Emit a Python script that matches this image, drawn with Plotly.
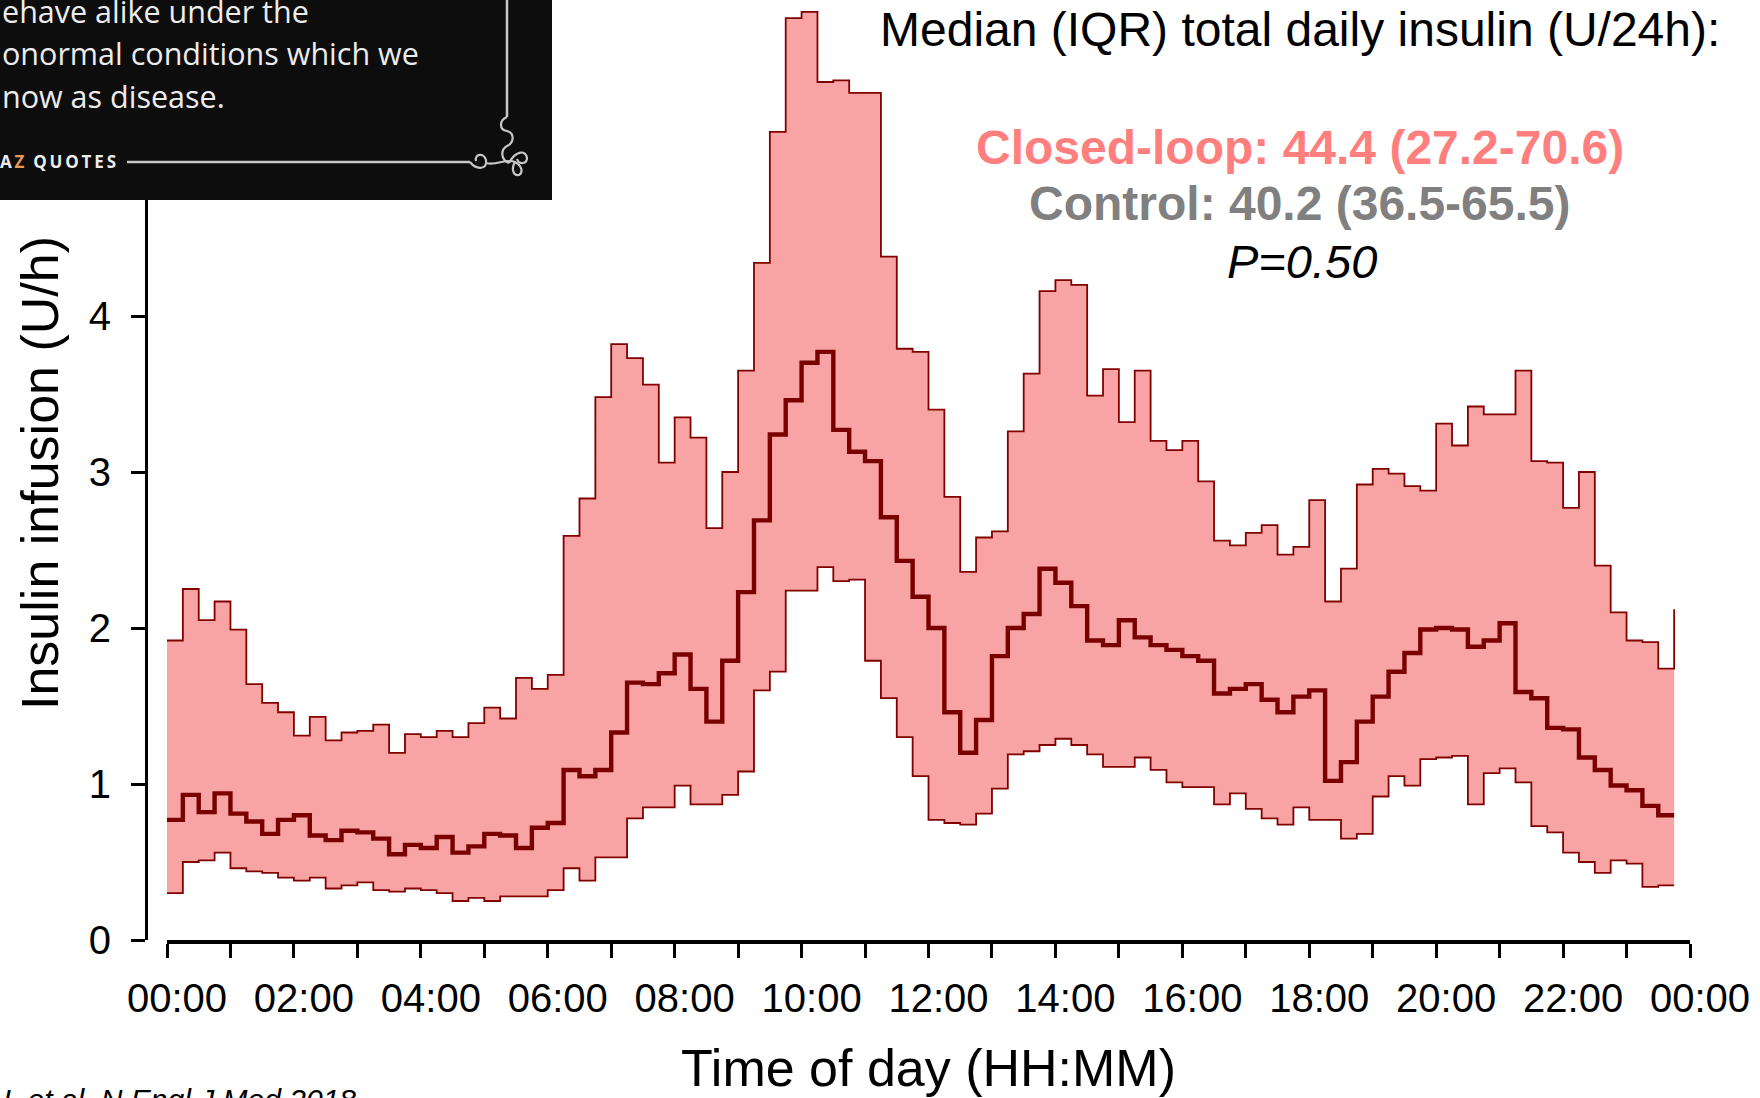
import re
import plotly.graph_objects as go

# ---------------- data (U/h), 15-min bins starting 00:00 ----------------
bin_minutes = 15
upper = [1.92, 2.25, 2.05, 2.17, 1.99, 1.64, 1.52, 1.46, 1.31, 1.43, 1.28, 1.33,
         1.34, 1.38, 1.20, 1.32, 1.30, 1.34, 1.30, 1.39, 1.49, 1.42, 1.68, 1.61,
         1.70, 2.59, 2.83, 3.48, 3.82, 3.73, 3.56, 3.06, 3.35, 3.22, 2.64, 3.00,
         3.65, 4.34, 5.18, 5.91, 5.95, 5.50, 5.51, 5.43, 5.43, 4.38, 3.79, 3.77,
         3.40, 2.84, 2.36, 2.58, 2.62, 3.26, 3.63, 4.16, 4.23, 4.20, 3.49, 3.66,
         3.32, 3.65, 3.20, 3.14, 3.20, 2.94, 2.56, 2.53, 2.61, 2.66, 2.47, 2.52,
         2.82, 2.17, 2.38, 2.92, 3.02, 2.99, 2.91, 2.88, 3.31, 3.17, 3.42, 3.37,
         3.37, 3.65, 3.07, 3.06, 2.77, 3.00, 2.40, 2.10, 1.92, 1.91, 1.74, 2.12]
median = [0.77, 0.93, 0.82, 0.94, 0.81, 0.76, 0.68, 0.77, 0.80, 0.67, 0.64, 0.70,
          0.69, 0.65, 0.55, 0.61, 0.59, 0.66, 0.56, 0.60, 0.68, 0.67, 0.59, 0.72,
          0.75, 1.09, 1.05, 1.09, 1.33, 1.65, 1.64, 1.71, 1.83, 1.61, 1.40, 1.79,
          2.23, 2.69, 3.24, 3.46, 3.70, 3.77, 3.27, 3.13, 3.07, 2.71, 2.43, 2.20,
          2.00, 1.46, 1.20, 1.41, 1.82, 2.00, 2.09, 2.38, 2.29, 2.14, 1.92, 1.89,
          2.05, 1.94, 1.89, 1.86, 1.82, 1.79, 1.58, 1.61, 1.64, 1.54, 1.46, 1.56,
          1.60, 1.02, 1.14, 1.40, 1.56, 1.72, 1.84, 1.99, 2.00, 1.99, 1.88, 1.92,
          2.03, 1.59, 1.55, 1.36, 1.35, 1.17, 1.09, 0.99, 0.96, 0.86, 0.80, 0.80]
lower = [0.30, 0.50, 0.51, 0.56, 0.46, 0.44, 0.43, 0.40, 0.38, 0.40, 0.33, 0.35,
         0.37, 0.32, 0.31, 0.33, 0.32, 0.30, 0.25, 0.27, 0.25, 0.28, 0.28, 0.28,
         0.32, 0.46, 0.38, 0.53, 0.53, 0.78, 0.85, 0.85, 0.99, 0.87, 0.87, 0.93,
         1.08, 1.60, 1.72, 2.24, 2.24, 2.39, 2.30, 2.31, 1.79, 1.55, 1.30, 1.05,
         0.77, 0.75, 0.74, 0.81, 0.97, 1.19, 1.21, 1.25, 1.29, 1.25, 1.19, 1.11,
         1.11, 1.17, 1.09, 1.01, 0.98, 0.98, 0.87, 0.94, 0.84, 0.78, 0.74, 0.85,
         0.77, 0.77, 0.65, 0.68, 0.92, 1.05, 0.99, 1.16, 1.17, 1.18, 0.87, 1.07,
         1.10, 1.01, 0.73, 0.69, 0.56, 0.50, 0.43, 0.51, 0.49, 0.34, 0.35, 0.35]

tick_hours = list(range(0, 25))
tick_labels = ["00:00", "", "02:00", "", "04:00", "", "06:00", "", "08:00", "",
               "10:00", "", "12:00", "", "14:00", "", "16:00", "", "18:00", "",
               "20:00", "", "22:00", "", "00:00"]
y_ticks = [0, 1, 2, 3, 4]

hours = [i * bin_minutes / 60 for i in range(len(median))]

# ---------------- geometry helpers ----------------
W, H = 1760, 1098
ML, MR, MT, MB = 146, 60, 4, 158
PW = W - ML - MR
PH = H - MT - MB


def pxx(x):
    return (x - ML) / PW


def pxy(y):
    return (H - MB - y) / PH


def path_px(s):
    def conv(m):
        x, y = float(m.group(1)), float(m.group(2))
        return f"{pxx(x):.5f},{pxy(y):.5f}"
    return re.sub(r"(-?\d+\.?\d*),(-?\d+\.?\d*)", conv, s)


ARIAL = "Liberation Sans, Arial, sans-serif"
DARK = "#800000"
FILL = "rgb(248,164,164)"

fig = go.Figure()
fig.add_trace(go.Scatter(x=hours, y=lower, mode="lines",
                         line=dict(shape="hv", color=DARK, width=1.8),
                         hoverinfo="skip", showlegend=False))
fig.add_trace(go.Scatter(x=hours, y=upper, mode="lines", fill="tonexty",
                         fillcolor=FILL,
                         line=dict(shape="hv", color=DARK, width=1.8),
                         hoverinfo="skip", showlegend=False))
fig.add_trace(go.Scatter(x=hours, y=median, mode="lines",
                         line=dict(shape="hv", color="#7a0000", width=4.4),
                         hoverinfo="skip", showlegend=False))

x0_dom = (167 - ML) / PW
x1_dom = (1690 - ML) / PW

fig.update_layout(
    width=W, height=H, autosize=False,
    margin=dict(l=ML, r=MR, t=MT, b=MB, pad=0, autoexpand=False),
    paper_bgcolor="white", plot_bgcolor="white",
    showlegend=False,
    font=dict(family=ARIAL, color="black"),
    xaxis=dict(domain=[x0_dom, x1_dom], range=[0, 24], automargin=False,
               tickmode="array", tickvals=tick_hours, ticktext=tick_labels,
               ticks="outside", ticklen=14, tickwidth=2.5, tickcolor="black",
               showline=True, linewidth=3.5, linecolor="black",
               showgrid=False, zeroline=False,
               tickfont=dict(family=ARIAL, size=40, color="black"),
               ticklabelstandoff=6, ticklabelshift=10),
    yaxis=dict(anchor="free", position=0, range=[0, 6.0], automargin=False,
               tickmode="array", tickvals=y_ticks,
               ticks="outside", ticklen=14, tickwidth=2.5, tickcolor="black",
               showline=True, linewidth=3, linecolor="black",
               showgrid=False, zeroline=False,
               tickfont=dict(family=ARIAL, size=40, color="black"),
               ticklabelstandoff=12),
)

annotations = []


def ann(text, x, y, size, color="black", xanchor="center", family=ARIAL, angle=0):
    annotations.append(dict(text=text, x=pxx(x), y=pxy(y), xref="paper", yref="paper",
                            xanchor=xanchor, yanchor="middle", showarrow=False,
                            textangle=angle,
                            font=dict(family=family, size=size, color=color)))


# axis titles
ann("Time of day (HH:MM)", 928, 1068, 52)
ann("Insulin infusion (U/h)", 40, 473, 52, angle=-90)

# summary text
ann("Median (IQR) total daily insulin (U/24h):", 1300, 29, 48)
ann("<b>Closed-loop: 44.4 (27.2-70.6)</b>", 1300, 147, 48, color="#FF7F7F")
ann("<b>Control: 40.2 (36.5-65.5)</b>", 1300, 203, 48, color="#808080")
ann("<i>P=0.50</i>", 1302, 261, 47)

# citation (cut at bottom edge)
ann("<i>L et al. N Engl J Med 2018</i>", 1, 1099, 30, xanchor="left")

# quote overlay text
QF = "Open Sans, Noto Sans, sans-serif"
ann("ehave alike under the", 0, 11, 30.5, color="#ececec", xanchor="left", family=QF)
ann("onormal conditions which we", 0, 53, 30.5, color="#ececec", xanchor="left", family=QF)
ann("now as disease.", 0, 96, 30.5, color="#ececec", xanchor="left", family=QF)
ann("<b>A<span style='color:#E59A55'>\u2009Z</span>\u00a0\u00a0Q\u2009U\u2009O\u2009T\u2009E\u2009S</b>",
    -2, 162, 17, color="#ececec", xanchor="left", family=QF)

fig.update_layout(annotations=annotations)

shapes = [
    dict(type="rect", xref="paper", yref="paper", layer="above",
         x0=pxx(-10), x1=pxx(552), y0=pxy(200), y1=pxy(-10),
         fillcolor="#0d0d0d", line=dict(width=0)),
    dict(type="line", xref="paper", yref="paper", layer="above",
         x0=pxx(127), x1=pxx(470), y0=pxy(162), y1=pxy(162),
         line=dict(color="#c8c8c8", width=2.5)),
    dict(type="line", xref="paper", yref="paper", layer="above",
         x0=pxx(507), x1=pxx(507), y0=pxy(-5), y1=pxy(117),
         line=dict(color="#c8c8c8", width=2.5)),
]
flourishes = [
    "M 470,162 C 476,170 488,170 486,160 C 484,152 474,154 476,161",
    "M 507,117 C 499,120 499,130 507,131 C 515,133 514,143 507,146 C 500,150 501,160 509,163",
    "M 486,163 C 496,166 506,158 515,162 C 521,165 524,172 519,175 C 513,176 511,168 515,162",
    "M 509,163 C 516,150 526,150 527,158 C 527,164 519,165 517,159",
]
for p in flourishes:
    shapes.append(dict(type="path", xref="paper", yref="paper", layer="above",
                       path=path_px(p), line=dict(color="#c8c8c8", width=2.2)))

fig.update_layout(shapes=shapes)

fig.write_html("out.html")
